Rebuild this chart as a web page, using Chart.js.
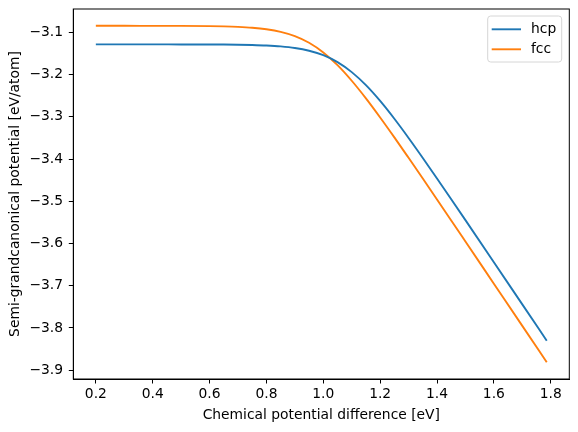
<!DOCTYPE html>
<html>
<head>
<meta charset="utf-8">
<script src="https://cdn.jsdelivr.net/npm/chart.js@4.4.1/dist/chart.umd.min.js"></script>
<style>
  html, body { margin: 0; padding: 0; background: #fff; }
  #wrap { width: 578px; height: 432px; position: relative; }
</style>
</head>
<body>
<div id="wrap"><canvas id="chart"></canvas></div>
<script>
// values
const deltaMu = [0.2, 0.3, 0.4, 0.5, 0.6, 0.65, 0.7, 0.75, 0.8, 0.85, 0.9, 0.95,
  1.0, 1.05, 1.1, 1.15, 1.2, 1.25, 1.3, 1.35, 1.4, 1.45, 1.5, 1.6, 1.7, 1.786];
const hcp = [-3.1284, -3.1284, -3.1284, -3.1285, -3.1286, -3.1288, -3.1292, -3.1299,
  -3.1311, -3.1332, -3.1369, -3.1434, -3.1540, -3.1705, -3.1941, -3.2250, -3.2624,
  -3.3046, -3.3500, -3.3973, -3.4458, -3.4950, -3.5446, -3.6442, -3.7441, -3.8300];
const fcc = [-3.0844, -3.0844, -3.0845, -3.0846, -3.0852, -3.0858, -3.0869, -3.0889,
  -3.0925, -3.0986, -3.1087, -3.1245, -3.1474, -3.1776, -3.2145, -3.2562, -3.3014,
  -3.3485, -3.3970, -3.4461, -3.4956, -3.5453, -3.5952, -3.6951, -3.7950, -3.8810];
const xTicks = [0.2, 0.4, 0.6, 0.8, 1.0, 1.2, 1.4, 1.6, 1.8];
const yTicks = [-3.9, -3.8, -3.7, -3.6, -3.5, -3.4, -3.3, -3.2, -3.1];

const FONT = "'DejaVu Sans', sans-serif";
const FSIZE = 13.85;

function fmt(v) {
  return (v < 0 ? "\u2212" : "") + Math.abs(v).toFixed(1);
}

// no extra room for labels hanging over the plot edges
function noEdgePadding(scale) {
  scale.paddingTop = 0;
  scale.paddingBottom = 0;
  scale.paddingLeft = 0;
  scale.paddingRight = 0;
}

// matplotlib style frame around the plot area
const frame = {
  id: "frame",
  afterDraw(chart) {
    const { ctx, chartArea: a } = chart;
    ctx.save();
    ctx.strokeStyle = "#000";
    ctx.lineWidth = 1;
    ctx.strokeRect(a.left, a.top, a.right - a.left, a.bottom - a.top);
    ctx.restore();
  }
};

// legend box in the upper right corner
const legendBox = {
  id: "legendBox",
  afterDraw(chart) {
    const { ctx, chartArea: a } = chart;
    const sets = chart.data.datasets;
    const w = 74, rowH = 20;
    const h = 46;
    const x0 = a.right - 7.6 - w, y0 = a.top + 7;
    ctx.save();
    ctx.beginPath();
    ctx.roundRect(x0, y0, w, h, 3);
    ctx.fillStyle = "rgba(255,255,255,0.8)";
    ctx.fill();
    ctx.strokeStyle = "#d6d6d6";
    ctx.lineWidth = 1;
    ctx.stroke();
    ctx.font = FSIZE + "px " + FONT;
    ctx.textBaseline = "middle";
    sets.forEach((ds, i) => {
      const y = y0 + 13.3 + i * rowH;
      ctx.strokeStyle = ds.borderColor;
      ctx.lineWidth = 1.9;
      ctx.beginPath();
      ctx.moveTo(x0 + 4, y);
      ctx.lineTo(x0 + 33.3, y);
      ctx.stroke();
      ctx.fillStyle = "#000";
      ctx.fillText(ds.label, x0 + 43.3, y);
    });
    ctx.restore();
  }
};

new Chart(document.getElementById("chart"), {
  type: "line",
  data: {
    datasets: [
      {
        label: "hcp",
        data: deltaMu.map((x, i) => ({ x: x, y: hcp[i] })),
        borderColor: "#1f77b4",
        borderWidth: 1.9,
        pointRadius: 0,
        fill: false,
        cubicInterpolationMode: "monotone"
      },
      {
        label: "fcc",
        data: deltaMu.map((x, i) => ({ x: x, y: fcc[i] })),
        borderColor: "#ff7f0e",
        borderWidth: 1.9,
        pointRadius: 0,
        fill: false,
        cubicInterpolationMode: "monotone"
      }
    ]
  },
  options: {
    responsive: true,
    maintainAspectRatio: false,
    animation: false,
    layout: { padding: { top: 9, right: 8.7, left: 0, bottom: 0 } },
    plugins: {
      legend: { display: false },
      tooltip: { enabled: false }
    },
    scales: {
      x: {
        type: "linear",
        min: 0.1207,
        max: 1.8653,
        afterFit(scale) { scale.height = 53; noEdgePadding(scale); },
        afterBuildTicks(scale) { scale.ticks = xTicks.map(v => ({ value: v })); },
        grid: { drawOnChartArea: false, drawTicks: true, tickLength: 4.5, color: "#000", tickWidth: 1 },
        border: { display: true, color: "#000", width: 1 },
        ticks: {
          color: "#000",
          padding: 3,
          maxRotation: 0,
          font: { family: FONT, size: FSIZE },
          callback: v => fmt(v)
        },
        title: {
          display: true,
          text: "Chemical potential difference [eV]",
          color: "#000",
          font: { family: FONT, size: FSIZE },
          padding: { top: 0, bottom: 8 }
        }
      },
      y: {
        type: "linear",
        min: -3.9208,
        max: -3.0446,
        afterFit(scale) { scale.width = 73.3; noEdgePadding(scale); },
        afterBuildTicks(scale) { scale.ticks = yTicks.map(v => ({ value: v })); },
        grid: { drawOnChartArea: false, drawTicks: true, tickLength: 4.5, color: "#000", tickWidth: 1 },
        border: { display: true, color: "#000", width: 1 },
        ticks: {
          color: "#000",
          padding: 5.8,
          font: { family: FONT, size: FSIZE },
          callback: v => fmt(v)
        },
        title: {
          display: true,
          text: "Semi-grandcanonical potential [eV/atom]",
          color: "#000",
          font: { family: FONT, size: FSIZE },
          padding: { top: 7, bottom: 0 }
        }
      }
    }
  },
  plugins: [frame, legendBox]
});
</script>
</body>
</html>
